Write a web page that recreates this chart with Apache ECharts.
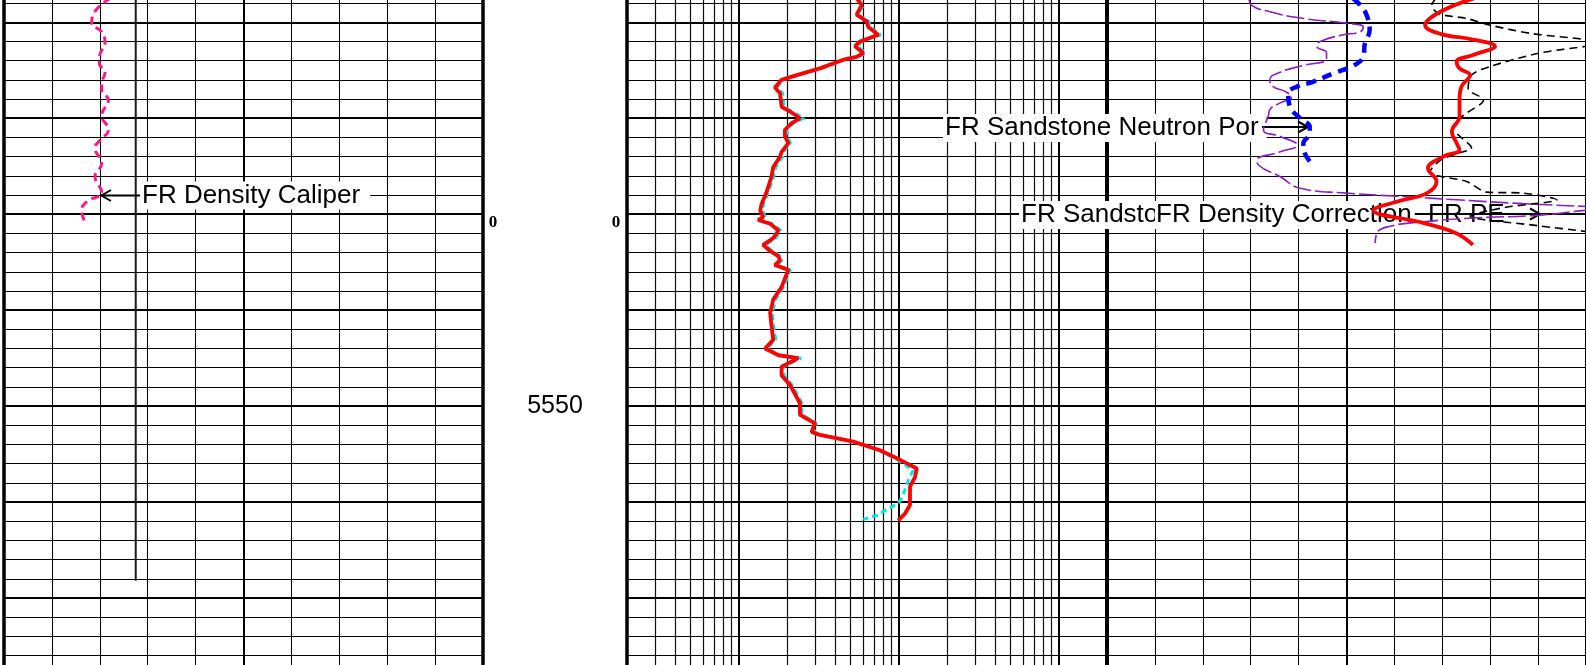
<!DOCTYPE html>
<html><head><meta charset="utf-8">
<script src="https://cdn.jsdelivr.net/npm/echarts@6/dist/echarts.min.js"></script>
<style>html,body{margin:0;padding:0;background:#fff;overflow:hidden}#c{width:1586px;height:665px}</style>
</head><body><div id="c"></div>
<script>
// ---- data: [depth (ft), value] ----
const caliper = [[5507.5,8.22],[5509.2,7.86],[5510.1,7.83],[5511.0,8.04],[5512.2,8.11],[5513.4,8.00],[5514.3,7.99],[5515.2,8.11],[5516.4,8.04],[5517.1,8.04],[5518.1,8.18],[5519.7,8.04],[5521.2,8.18],[5522.3,8.00],[5523.1,7.90],[5524.7,8.04],[5526.1,7.90],[5527.7,8.04],[5528.7,7.73],[5529.6,7.62],[5530.8,7.69]];
const bitSize = [[5507.5,8.75],[5568.2,8.75]];

const resDeep = [[5507.5,54.5],[5508.2,58.6],[5509.2,54.5],[5509.9,63.0],[5510.5,64.4],[5511.3,74.4],[5512.0,57.2],[5512.5,53.2],[5513.2,60.0],[5513.6,54.5],[5513.9,45.0],[5514.8,32.1],[5515.5,23.0],[5516.0,18.5],[5516.8,16.8],[5517.4,18.1],[5518.8,18.5],[5519.3,20.9],[5520.0,24.1],[5520.5,21.4],[5521.2,19.4],[5521.9,19.4],[5522.6,20.4],[5523.5,18.5],[5524.0,18.1],[5525.1,16.4],[5526.1,16.0],[5527.7,14.9],[5528.9,13.9],[5529.6,13.6],[5530.3,14.2],[5530.6,13.2],[5531.0,15.7],[5531.7,17.7],[5532.5,16.4],[5533.2,14.2],[5533.7,15.3],[5534.4,17.7],[5534.8,18.1],[5535.3,16.8],[5535.8,20.4],[5536.7,19.4],[5537.6,18.5],[5538.9,16.4],[5540.3,15.7],[5541.6,16.0],[5543.1,16.4],[5544.0,14.6],[5544.7,17.7],[5545.0,23.5],[5545.9,18.5],[5546.8,18.5],[5547.8,20.9],[5549.7,24.1],[5550.9,24.1],[5551.8,29.9],[5552.7,28.5],[5553.0,32.1],[5553.7,51.9],[5554.6,76.2],[5555.6,101.7],[5556.5,129.4],[5557.4,126.2],[5558.4,117.4],[5560.3,117.4],[5561.2,109.3],[5561.9,99.2]];
const resShallow = [[5507.5,55.5],[5508.2,60.0],[5509.2,55.5],[5509.9,65.0],[5510.5,66.0],[5511.3,77.0],[5512.0,59.0],[5512.5,55.0],[5513.2,62.0],[5513.6,56.0],[5513.9,46.0],[5514.8,33.0],[5515.5,23.5],[5516.0,19.0],[5516.8,17.3],[5517.4,18.8],[5518.8,19.2],[5519.3,21.5],[5520.0,25.5],[5520.5,22.0],[5521.2,20.0],[5521.9,20.2],[5522.6,21.0],[5523.5,19.0],[5524.0,18.8],[5525.1,17.0],[5526.1,16.5],[5527.7,15.3],[5528.9,14.3],[5529.6,14.0],[5530.3,14.7],[5530.6,13.6],[5531.0,16.2],[5531.7,18.3],[5532.5,17.0],[5533.2,14.7],[5533.7,15.8],[5534.4,18.3],[5534.8,18.6],[5535.3,17.3],[5535.8,21.0],[5536.7,20.0],[5537.6,19.0],[5538.9,17.0],[5540.3,16.2],[5541.6,16.5],[5543.1,17.0],[5544.0,15.0],[5544.7,18.2],[5545.0,24.5],[5545.9,19.0],[5546.8,19.2],[5547.8,21.5],[5549.7,24.8],[5550.9,24.8],[5551.8,30.5],[5552.7,29.5],[5553.0,33.0],[5553.7,52.0],[5554.6,75.0],[5555.6,98.0],[5556.7,123.0],[5557.7,114.6],[5558.7,109.3],[5559.6,104.2],[5560.1,99.2],[5560.7,86.0],[5561.4,72.7],[5561.8,60.0]];

const densityPor = [[5507.5,0.272],[5508.2,0.269],[5508.9,0.246],[5509.6,0.204],[5510.1,0.150],[5510.5,0.129],[5511.0,0.133],[5511.3,0.154],[5512.0,0.183],[5512.5,0.187],[5513.2,0.175],[5513.8,0.175],[5514.5,0.204],[5515.2,0.233],[5516.0,0.246],[5516.7,0.242],[5517.2,0.227],[5517.8,0.219],[5518.4,0.233],[5519.1,0.246],[5519.8,0.248],[5521.2,0.254],[5521.9,0.233],[5522.8,0.212],[5523.5,0.233],[5524.4,0.262],[5524.9,0.260],[5526.1,0.233],[5527.3,0.208],[5527.8,0.150],[5528.2,0.070],[5528.5,0.012],[5528.9,-0.071],[5529.2,-0.150],[5529.4,-0.190],[5529.6,-0.150],[5530.1,-0.092],[5530.4,-0.008],[5530.8,0.054],[5531.3,0.098],[5532.0,0.112],[5533.0,0.114]];
const neutronPor = [[5507.5,0.142],[5508.2,0.133],[5509.2,0.125],[5510.8,0.121],[5512.2,0.127],[5513.6,0.129],[5514.5,0.141],[5515.3,0.166],[5516.2,0.192],[5516.7,0.212],[5517.4,0.223],[5518.8,0.221],[5520.0,0.208],[5520.9,0.196],[5521.6,0.196],[5522.6,0.204],[5523.7,0.202],[5524.7,0.194]];
const densityCorr = [[5507.5,0.133],[5508.9,0.098],[5510.3,0.082],[5511.2,0.098],[5511.8,0.132],[5512.5,0.155],[5513.4,0.132],[5514.1,0.115],[5514.8,0.118],[5515.5,0.129],[5516.7,0.120],[5518.1,0.118],[5519.8,0.118],[5521.4,0.110],[5522.6,0.115],[5523.3,0.118],[5524.0,0.101],[5525.2,0.085],[5526.6,0.094],[5527.8,0.084],[5528.6,0.056],[5529.6,0.028],[5530.9,0.080],[5532.0,0.115],[5533.2,0.132]];
const pe = [[5507.5,6.87],[5508.2,6.78],[5509.1,6.92],[5509.6,7.51],[5510.3,8.00],[5511.2,8.90],[5511.8,10.0],[5512.2,10.3],[5512.5,10.0],[5513.2,9.04],[5514.6,8.00],[5515.5,7.61],[5516.9,7.54],[5518.1,7.86],[5519.7,7.44],[5521.1,7.20],[5521.9,7.37],[5523.1,7.61],[5523.7,7.30],[5524.4,6.95],[5525.6,6.74],[5526.6,7.51],[5527.7,7.93],[5527.8,8.69],[5528.5,9.39],[5529.3,8.30],[5530.2,7.58],[5531.2,9.00],[5531.8,10.0],[5532.0,10.3]];

const logMinorTicks = [3,4,5,6,7,8,9,20,30,40,50,60,70,80,90,200,300,400,500,600,700,800,900];
const depthTopFt = 5500, depthBottomFt = 5580;

// ---- layout ----
const PX_PER_FT = 9.595;
const gridTop = 22.3 - 10 * PX_PER_FT;
const gridH = (depthBottomFt - depthTopFt) * PX_PER_FT;
const FONT = '"Liberation Sans", Arial, sans-serif';
const toXY = arr => arr.map(p => [p[1], p[0]]);

const hid = {axisLabel:{show:false}, axisTick:{show:false}, axisLine:{show:false}, splitLine:{show:false}};
function depthAxis(gi, interval, w, pos) {
  return {gridIndex:gi, type:'value', inverse:true, min:depthTopFt, max:depthBottomFt, interval:interval, position:pos,
    axisLabel:{show:false}, axisTick:{show:false},
    axisLine:{show:true, lineStyle:{color:'#000', width:3.5}},
    splitLine:{show:true, lineStyle:{color:'#000', width:w}}};
}
const thin = {show:true, lineStyle:{color:'#000', width:1}};
const thick = {show:true, lineStyle:{color:'#000', width:2}};
function gridAt(left, width) {
  return {left:left, width:width, top:gridTop, height:gridH, containLabel:false, outerBoundsMode:'none'};
}
function label(text, x, y, pad, box) {
  const s = {text:text, x:x, y:y, font:'26px '+FONT, fill:'#000', align:'left', textAlign:'left', verticalAlign:'middle', textVerticalAlign:'middle'};
  if (box) { s.backgroundColor = '#fff'; s.padding = pad; }
  return {type:'text', z:1, style:s};
}

const option = {
  animation:false,
  backgroundColor:'#fff',
  grid:[gridAt(4,479), gridAt(483,144), gridAt(627,480), gridAt(1107,479)],
  xAxis:[
    Object.assign({}, hid, {gridIndex:0, type:'value', min:6, max:16, interval:1, splitLine:thin}),
    Object.assign({}, hid, {gridIndex:0, type:'value', min:0, max:10, interval:5, splitLine:thick, position:'top'}),
    Object.assign({}, hid, {gridIndex:1, type:'value', min:0, max:1}),
    Object.assign({}, hid, {gridIndex:2, type:'log', logBase:10, min:2, max:2000, splitLine:thick}),
    Object.assign({}, hid, {gridIndex:3, type:'value', min:0, max:10, interval:1, splitLine:thin}),
    Object.assign({}, hid, {gridIndex:3, type:'value', min:0, max:10, interval:5, splitLine:thick, position:'top'}),
    Object.assign({}, hid, {gridIndex:3, type:'value', min:-0.15, max:0.45, inverse:true, offset:30}),
    Object.assign({}, hid, {gridIndex:3, type:'value', min:-0.25, max:0.25, position:'top', offset:30})
  ],
  yAxis:[
    depthAxis(0, 2, 1, 'left'),
    depthAxis(0, 10, 2, 'right'),
    {gridIndex:1, type:'value', inverse:true, min:depthTopFt, max:depthBottomFt, interval:50,
      axisLine:{show:false}, axisTick:{show:false}, splitLine:{show:false},
      axisLabel:{show:true, inside:true, margin:72, align:'center', color:'#000', fontSize:25, fontFamily:FONT,
        formatter: v => String(v)}},
    depthAxis(2, 2, 1, 'left'),
    depthAxis(2, 10, 2, 'right'),
    depthAxis(3, 2, 1, 'left'),
    depthAxis(3, 10, 2, 'right')
  ],
  series:[
    {name:'FR Density Caliper', type:'line', xAxisIndex:0, yAxisIndex:0, data:toXY(caliper), showSymbol:false, smooth:0.5,
      lineStyle:{color:'#ff1a8c', width:3, type:[8,5]}},
    {name:'Bit Size', type:'line', xAxisIndex:0, yAxisIndex:0, data:toXY(bitSize), showSymbol:false,
      lineStyle:{color:'#1a1a1a', width:2}},
    {name:'log grid', type:'line', xAxisIndex:3, yAxisIndex:3, data:[], silent:true, z:0,
      markLine:{silent:true, z:0.5, symbol:['none','none'], animation:false, label:{show:false},
        emphasis:{disabled:true}, lineStyle:{color:'#111', width:1.2, type:'solid'},
        data:logMinorTicks.map(v => ({xAxis:v}))}},
    {name:'FR Shallow Res', type:'line', xAxisIndex:3, yAxisIndex:3, data:toXY(resShallow), showSymbol:false,
      lineStyle:{color:'#00e5e5', width:3, type:[6,4]}},
    {name:'FR Deep Res', type:'line', xAxisIndex:3, yAxisIndex:3, data:toXY(resDeep), showSymbol:false,
      lineStyle:{color:'#ff0000', width:3.8}},
    {name:'FR Sandstone Density Por', type:'line', xAxisIndex:6, yAxisIndex:5, data:toXY(densityPor), showSymbol:false, smooth:0.5,
      lineStyle:{color:'#8a1fc0', width:1.6, type:[18,4]}},
    {name:'FR Sandstone Neutron Por', type:'line', xAxisIndex:6, yAxisIndex:5, data:toXY(neutronPor), showSymbol:false, smooth:0.4,
      lineStyle:{color:'#0000ff', width:4.5, type:[10,7]}},
    {name:'FR PE', type:'line', xAxisIndex:4, yAxisIndex:5, data:toXY(pe), showSymbol:false, smooth:0.3,
      lineStyle:{color:'#000', width:1.6, type:[8,5]}},
    {name:'FR Density Correction', type:'line', xAxisIndex:7, yAxisIndex:5, data:toXY(densityCorr), showSymbol:false, smooth:0.4,
      lineStyle:{color:'#ff0000', width:3.8}}
  ],
  graphic:[
    label('FR Density Caliper', 140, 195.5, [1,10,1,2], true),
    label('FR Sandstone Neutron Por', 943, 128, [1,8,1,2], true),
    label('FR Sandstone Density Por', 1019, 215, [1,3,1,2], true),
    label('FR Density Correction', 1155, 215, [1,3,1,1], true),
    label('FR PE', 1428, 215, null, false),
    {type:'line', z:3, shape:{x1:101.5, y1:195.5, x2:140, y2:195.5}, style:{stroke:'#000', lineWidth:2}},
    {type:'polyline', z:3, shape:{points:[[111,190],[101.5,195.5],[111,201]]}, style:{stroke:'#000', lineWidth:2, fill:null}},
    {type:'line', z:3, shape:{x1:1262, y1:127, x2:1308, y2:127}, style:{stroke:'#000', lineWidth:2}},
    {type:'polyline', z:3, shape:{points:[[1298,121.5],[1308,127],[1298,132.5]]}, style:{stroke:'#000', lineWidth:2, fill:null}},
    {type:'line', z:3, shape:{x1:1504, y1:214, x2:1540, y2:214}, style:{stroke:'#000', lineWidth:2}},
    {type:'polyline', z:3, shape:{points:[[1530,208.5],[1540,214],[1530,219.5]]}, style:{stroke:'#000', lineWidth:2, fill:null}},
    {type:'text', z:1, style:{text:'0', x:493, y:222.5, font:'bold 17px "Liberation Serif", serif', fill:'#000', align:'center', textAlign:'center', verticalAlign:'middle', textVerticalAlign:'middle'}},
    {type:'text', z:1, style:{text:'0', x:616, y:222.5, font:'bold 17px "Liberation Serif", serif', fill:'#000', align:'center', textAlign:'center', verticalAlign:'middle', textVerticalAlign:'middle'}}
  ]
};
const chart = echarts.init(document.getElementById('c'), null, {renderer:'canvas'});
chart.setOption(option);
</script>
</body></html>
